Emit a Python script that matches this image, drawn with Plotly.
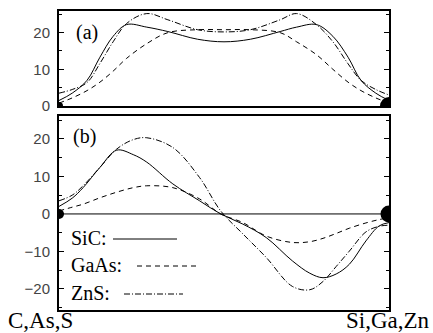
import plotly.graph_objects as go

W, H = 433, 333

# ---- data: panel (a) ----
XA = [0, 0.04, 0.085, 0.124, 0.164, 0.205, 0.266, 0.33, 0.42, 0.5, 0.58, 0.67, 0.72, 0.78, 0.83, 0.876, 0.915, 0.96, 1.0]
SIC_A = [1.5, 3.5, 7, 13.3, 19, 22.2, 21.5, 20.3, 18.2, 17.5, 18.2, 20.3, 21.5, 22.2, 19, 13.3, 7, 3.5, 1.5]
GAAS_A = [0.8, 2.2, 4.2, 6.5, 9.5, 13, 17, 20, 20.8, 20.8, 20.8, 20, 17.5, 14, 10, 6.5, 4.2, 2.2, 0.8]
ZNS_A = [3.5, 4.5, 6.4, 11.6, 17.5, 22.5, 25.2, 23.5, 20.8, 20.2, 20.8, 23.5, 25.2, 22.2, 17.5, 11.5, 7, 4.5, 3]

# ---- data: panel (b) ----
XB = [0, 0.04, 0.073, 0.124, 0.175, 0.225, 0.266, 0.345, 0.426, 0.49, 0.557, 0.628, 0.707, 0.76, 0.80, 0.84, 0.88, 0.93, 0.97, 1.0]
SIC_B = [2.0, 4.2, 7, 12.4, 17, 15.8, 13.8, 8, 3.5, 0, -2.7, -6.3, -12.5, -15.8, -17, -16, -13.4, -7.2, -3.2, -2.3]
GAAS_B = [0.8, 1.8, 2.6, 4.3, 5.8, 7, 7.5, 7, 4, 0, -2.3, -5.9, -7.6, -7.4, -6.5, -5.2, -3.8, -2.4, -1.5, -1.0]
ZNS_B = [3.5, 5, 7.5, 12.4, 17.3, 19.8, 20.3, 17.7, 9.7, 0.8, -5.3, -11.6, -19.3, -20.2, -18, -14, -9.9, -4.8, -3.3, -3.0]

ENDS_X = [0, 1]
ENDS_Y = [0, 0]
MARK_A = [8, 18]
MARK_B = [10, 17]

A_TICKS = [0, 10, 20]
B_TICKS = [-20, -10, 0, 10, 20]
LEFT_LABEL = "C,As,S"
RIGHT_LABEL = "Si,Ga,Zn"
SERIES = ["SiC:", "GaAs:", "ZnS:"]

DASHES = {"SiC:": "solid", "GaAs:": "5px,4px", "ZnS:": "6px,2px,1px,2px"}

fig = go.Figure()

def add_panel(x, ys, xa, ya, mark_sizes):
    for name, y in zip(SERIES, ys):
        fig.add_trace(go.Scatter(x=x, y=y, mode="lines", xaxis=xa, yaxis=ya,
                                 line=dict(color="black", width=1, dash=DASHES[name],
                                           shape="spline", smoothing=1.0),
                                 showlegend=False, hoverinfo="skip"))
    fig.add_trace(go.Scatter(x=ENDS_X, y=ENDS_Y, mode="markers", xaxis=xa, yaxis=ya,
                             opacity=1,
                             marker=dict(color="#000000", size=mark_sizes, opacity=1,
                                         line=dict(width=0, color="#000000")),
                             cliponaxis=True, showlegend=False, hoverinfo="skip"))

add_panel(XA, [SIC_A, GAAS_A, ZNS_A], "x", "y", MARK_A)
add_panel(XB, [SIC_B, GAAS_B, ZNS_B], "x2", "y2", MARK_B)

def py(p):
    return 1 - p / H

def px(p):
    return p / W

xdom = [px(59), px(389)]
serif = "Liberation Serif"
tickfont = dict(family="Liberation Sans", size=15, color="#444")

xcommon = dict(range=[0, 1], showticklabels=False, ticks="", showgrid=False,
               zeroline=False, showline=True, linecolor="black", linewidth=2,
               mirror=True, domain=xdom, fixedrange=True, automargin=False)
ycommon = dict(showgrid=False, zeroline=False, showline=True, linecolor="black",
               linewidth=2, mirror="allticks", ticks="inside", ticklen=5,
               tickcolor="black", tickwidth=1, tickfont=tickfont,
               minor=dict(ticks="inside", dtick=5, ticklen=3, tickcolor="black", tickwidth=1),
               tickmode="array", fixedrange=True, ticklabelstandoff=4, automargin=False)

fig.update_layout(
    template="none",
    width=W, height=H, margin=dict(l=0, r=0, t=0, b=0, pad=0, autoexpand=False),
    paper_bgcolor="white", plot_bgcolor="white", showlegend=False,
    xaxis=dict(**xcommon, anchor="y"),
    yaxis=dict(**ycommon, anchor="x", range=[0, 25.9], domain=[py(106), py(11)],
               tickvals=A_TICKS),
    xaxis2=dict(**xcommon, anchor="y2"),
    yaxis2=dict(**ycommon, anchor="x2", range=[-25.6, 26.1], domain=[py(310), py(116)],
                tickvals=B_TICKS),
)

# zero line in panel (b)
fig.add_shape(type="line", xref="x2 domain", yref="y2", x0=0, x1=1, y0=0, y1=0,
              line=dict(color="black", width=1), layer="below")

anns = [
    dict(text="(a)", x=px(74), y=py(32), xa="left", size=20),
    dict(text="(b)", x=px(71), y=py(137), xa="left", size=20),
    dict(text=LEFT_LABEL, x=px(6), y=py(320), xa="left", size=23),
    dict(text=RIGHT_LABEL, x=px(432), y=py(320), xa="right", size=23),
]
leg_y = [238, 265, 293]
for name, yy in zip(SERIES, leg_y):
    anns.append(dict(text=name, x=px(69), y=py(yy), xa="left", size=20))
for a in anns:
    fig.add_annotation(text=a["text"], x=a["x"], y=a["y"], xref="paper", yref="paper",
                       xanchor=a["xa"], yanchor="middle", showarrow=False,
                       font=dict(family=serif, size=a["size"], color="black"))

leg_lines = [(113, 177), (137, 199), (124, 183)]
for name, (x0, x1), yy in zip(SERIES, leg_lines, leg_y):
    fig.add_shape(type="line", xref="paper", yref="paper", x0=px(x0), x1=px(x1),
                  y0=py(yy + 1), y1=py(yy + 1),
                  line=dict(color="black", width=1, dash=DASHES[name]))

fig.write_html("out.html",
               config={"displayModeBar": False, "staticPlot": True},
               post_script="document.body.style.margin='0px';"
                           "document.body.style.padding='0px';"
                           "document.documentElement.style.overflow='hidden';")
